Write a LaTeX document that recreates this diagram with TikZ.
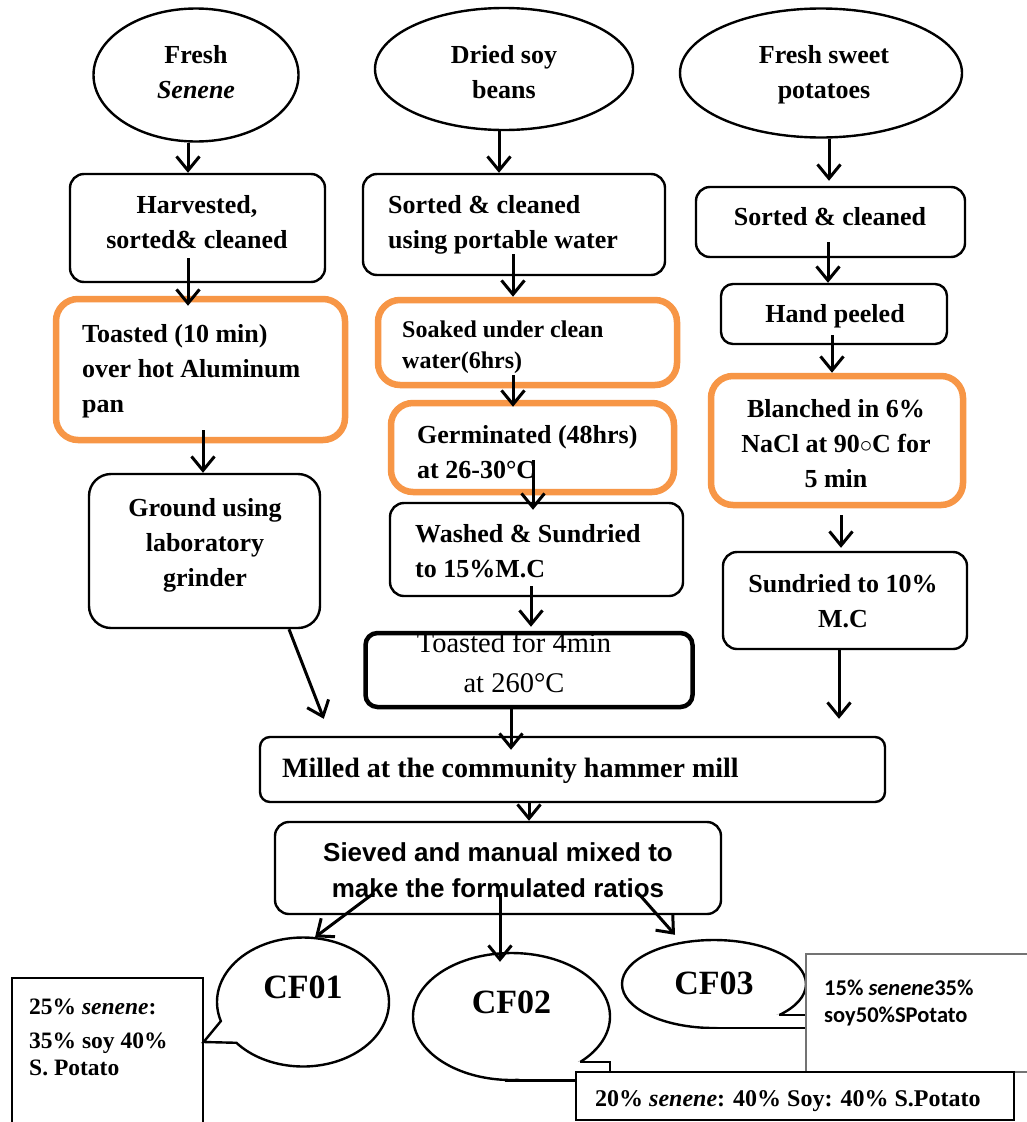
\documentclass[tikz,border=0pt]{standalone}
\usepackage{fontspec}
\setmainfont{Liberation Serif}
\newfontfamily\arialf{Liberation Sans}
\newfontfamily\calf{Carlito}
\usetikzlibrary{shapes.geometric,shapes.callouts,arrows.meta}
\definecolor{myorange}{HTML}{F79646}
\begin{document}
\begin{tikzpicture}[x=1pt,y=-1pt,
 box/.style={draw, line width=2.4pt, rounded corners=14pt, inner sep=0pt},
 obox/.style={draw=myorange, line width=6.5pt, rounded corners=22pt, inner sep=0pt},
 ell/.style={draw, ellipse, line width=2.4pt, inner sep=0pt},
 arr/.style={line width=3pt, -{Straight Barb[length=14pt,width=23pt]}},
 tb/.style={inner sep=0pt, font=\bfseries\fontsize{26}{35}\selectfont},
 tsoak/.style={inner sep=0pt, font=\bfseries\fontsize{24}{31}\selectfont},
 treg/.style={inner sep=0pt, font=\fontsize{28.5}{40}\selectfont},
 tmill/.style={inner sep=0pt, font=\bfseries\fontsize{28}{34}\selectfont},
 tsieve/.style={inner sep=0pt, font=\arialf\bfseries\fontsize{26}{36}\selectfont},
 cft/.style={font=\bfseries\fontsize{34}{40}\selectfont},
 tsmall/.style={inner sep=0pt, font=\bfseries\fontsize{23.5}{34}\selectfont},
 tcal/.style={inner sep=0pt, font=\calf\bfseries\fontsize{22.5}{27}\selectfont},
 note/.style={draw, fill=white, rectangle, inner sep=0pt},
]
\fill[white] (0,0) rectangle (1027,1122);
\useasboundingbox (0,0) rectangle (1027,1122);

% ---------- top ellipses ----------
\node[ell, minimum width=205pt, minimum height=133pt] (e1) at (196,75) {};
\node[ell, minimum width=258pt, minimum height=122pt] (e2) at (504,69) {};
\node[ell, minimum width=282pt, minimum height=129pt] (e3) at (821,73) {};
\node[tb, anchor=base, align=center] (e1t) at (196,98) {Fresh\\\textit{Senene}};
\node[tb, anchor=base, align=center] (e2t) at (504,98) {Dried soy\\beans};
\node[tb, anchor=base, align=center] (e3t) at (824,98) {Fresh sweet\\potatoes};

% ---------- boxes ----------
\node[box, minimum width=255pt, minimum height=108pt] (harv) at (197.5,228) {};
\node[box, minimum width=302pt, minimum height=101pt] (sort2) at (514,224.5) {};
\node[box, minimum width=269pt, minimum height=70pt] (sort3) at (830.5,222) {};
\node[obox, minimum width=289pt, minimum height=141pt] (toast) at (200.5,369.5) {};
\node[obox, minimum width=299pt, minimum height=85pt] (soak) at (527.5,342.5) {};
\node[box, rounded corners=12pt, minimum width=226pt, minimum height=60pt] (peel) at (834,314) {};
\node[obox, minimum width=283pt, minimum height=89pt] (germ) at (532.5,447.5) {};
\node[obox, minimum width=252pt, minimum height=129pt] (blanch) at (837,440.5) {};
\node[box, rounded corners=22pt, minimum width=231pt, minimum height=154pt] (ground) at (204.5,551) {};
\node[box, minimum width=293pt, minimum height=93pt] (wash) at (536.5,549.5) {};
\node[box, minimum width=244pt, minimum height=97pt] (sund) at (845,600.5) {};
\node[box, line width=4.5pt, rounded corners=12pt, minimum width=327pt, minimum height=74pt] (toast4) at (529,670) {};
\node[box, rounded corners=10pt, minimum width=625pt, minimum height=65pt] (mill) at (572.5,769.5) {};
\node[box, minimum width=446pt, minimum height=92pt] (sieve) at (498,868) {};

% ---------- box texts (anchored at the baseline of the last line) ----------
\node[tb, anchor=base, align=center] (harvt) at (197,248) {Harvested,\\sorted\& cleaned};
\node[tb, anchor=base west, align=left] (sort2t) at (388,248) {Sorted \& cleaned\\using portable water};
\node[tb, anchor=base, align=center] (sort3t) at (830,225) {Sorted \& cleaned};
\node[tb, anchor=base west, align=left] (toastt) at (82,412) {Toasted (10 min)\\over hot Aluminum\\pan};
\node[tsoak, anchor=base west, align=left] (soakt) at (402,368) {Soaked under clean\\water(6hrs)};
\node[tb, anchor=base, align=center] (peelt) at (835,322) {Hand peeled};
\node[tb, anchor=base west, align=left] (germt) at (417,478) {Germinated (48hrs)\\at 26-30°C};
\node[tb, anchor=base, align=center] (blancht) at (836,487) {Blanched in 6\%\\NaCl at 90$\circ$C for\\5 min};
\node[tb, anchor=base, align=center] (groundt) at (205,586) {Ground using\\laboratory\\grinder};
\node[tb, anchor=base west, align=left] (washt) at (415,577) {Washed \& Sundried\\to 15\%M.C};
\node[tb, anchor=base, align=center] (sundt) at (843,627) {Sundried to 10\%\\M.C};
\node[treg, anchor=base, align=center] (toast4t) at (514,692) {Toasted for 4min\\at 260°C};
\node[tmill, anchor=base west] (millt) at (282,777) {Milled at the community hammer mill};
\node[tsieve, anchor=base, align=center] (sievet) at (498,897) {Sieved and manual mixed to\\make the formulated ratios};

% ---------- bottom callouts ----------
\node[note, line width=1.2pt, minimum width=191pt, minimum height=157pt] (box01) at (107.5,1056.5) {};
\node[draw, line width=2.4pt, ellipse callout, callout absolute pointer={([yshift=14.5pt]box01.east)},
      callout pointer arc=22, minimum width=172pt, minimum height=129pt, inner sep=0pt,
      cft, text height=23pt, text depth=31pt] (cf01) at (303,1002) {CF01};
\node[ell, cft, minimum width=197pt, minimum height=127pt, text height=23pt, text depth=30pt] (cf02) at (511.5,1016.5) {CF02};
\node[ell, cft, minimum width=184pt, minimum height=88pt, text height=23pt, text depth=3pt] (cf03) at (714,984) {CF03};
% tails of CF02 and CF03
\fill[white] (580.5,1061) -- (612,1061) -- (612,1095) -- (505,1095) -- (505,1082.5) -- cycle;
\draw[line width=2.4pt] (580,1062) -- (610,1062) -- (610,1074);
\draw[line width=2.4pt] (505,1080.3) -- (578,1080.3);
\fill[white] (779.5,1014) -- (808,1014) -- (808,1031) -- (702,1031) -- (702,1029.5) -- cycle;
\draw[line width=2.4pt] (779.3,1015) -- (807,1015);
\draw[line width=2.4pt] (704,1027.8) -- (807,1027.8);

\node[note, draw=black!55, line width=1.3pt, minimum width=234pt, minimum height=118pt] (box03) at (923,1013) {};
\node[note, line width=1.6pt, minimum width=438pt, minimum height=48pt] (box02) at (795,1096) {};
\node[tsmall, anchor=base west, align=left] (box01t) at (29,1075) {25\% \textit{senene}:\\35\% soy 40\%\\[-7pt]S. Potato};
\node[tsmall, font=\bfseries\fontsize{24}{30}\selectfont, anchor=base west] (box02t) at (595,1106) {20\% \textit{senene}: 40\% Soy: 40\% S.Potato};
\node[tcal, anchor=base west, align=left] (box03t) at (824,1022) {15\% \textit{senene}35\%\\soy50\%SPotato};

% ---------- arrows ----------
\draw[arr] ([xshift=-8pt]e1.south) -- ([xshift=-9.5pt]harv.north);
\draw[arr] ([xshift=-9.5pt,yshift=25pt]harv.south) -- ([xshift=-12.5pt,yshift=-10pt]toast.north);
\draw[arr] ([xshift=2.5pt,yshift=13pt]toast.south) -- ([xshift=-1.5pt]ground.north);
\draw[arr] ([xshift=84.5pt]ground.south) -- ([xshift=65pt,yshift=17pt]mill.north west);
\draw[arr] ([xshift=-5pt]e2.south) -- ([xshift=-15pt]sort2.north);
\draw[arr] ([xshift=-1pt,yshift=22pt]sort2.south) -- ([xshift=-14.5pt]soak.north);
\draw[arr] ([xshift=-14.5pt,yshift=13pt]soak.south) -- ([xshift=-19.5pt,yshift=-7pt]germ.north);
\draw[arr] ([xshift=0.5pt,yshift=35pt]germ.south) -- ([xshift=-3.5pt,yshift=-8pt]wash.north);
\draw[arr] ([xshift=-5.5pt,yshift=11pt]wash.south) -- ([xshift=2pt,yshift=4pt]toast4.north);
\draw[arr] ([xshift=-18pt]toast4.south) -- ([xshift=-61.5pt,yshift=-14pt]mill.north);
\draw[arr] ([xshift=8pt]e3.south) -- ([xshift=-1.5pt,yshift=5pt]sort3.north);
\draw[arr] ([xshift=-2.5pt,yshift=16pt]sort3.south) -- ([xshift=-6pt]peel.north);
\draw[arr] ([xshift=-2pt,yshift=10pt]peel.south) -- ([xshift=-5pt]blanch.north);
\draw[arr] ([xshift=4pt,yshift=-7pt]blanch.south) -- ([xshift=-4pt,yshift=3pt]sund.north);
\draw[arr] ([xshift=-6pt]sund.south) -- ([xshift=266.5pt,yshift=17pt]mill.north);
\draw[arr] ([xshift=-43.5pt]mill.south) -- ([xshift=31pt]sieve.north);
\draw[arr] ([xshift=-124pt,yshift=-25pt]sieve.center) -- ([xshift=12pt,yshift=-1pt]cf01.north);
\draw[arr] ([xshift=2pt,yshift=-25pt]sieve.center) -- ([xshift=-11.5pt,yshift=-10pt]cf02.north);
\draw[arr] ([xshift=140pt,yshift=-25pt]sieve.center) -- ([xshift=-39pt,yshift=4pt]cf03.north);
\end{tikzpicture}
\end{document}
